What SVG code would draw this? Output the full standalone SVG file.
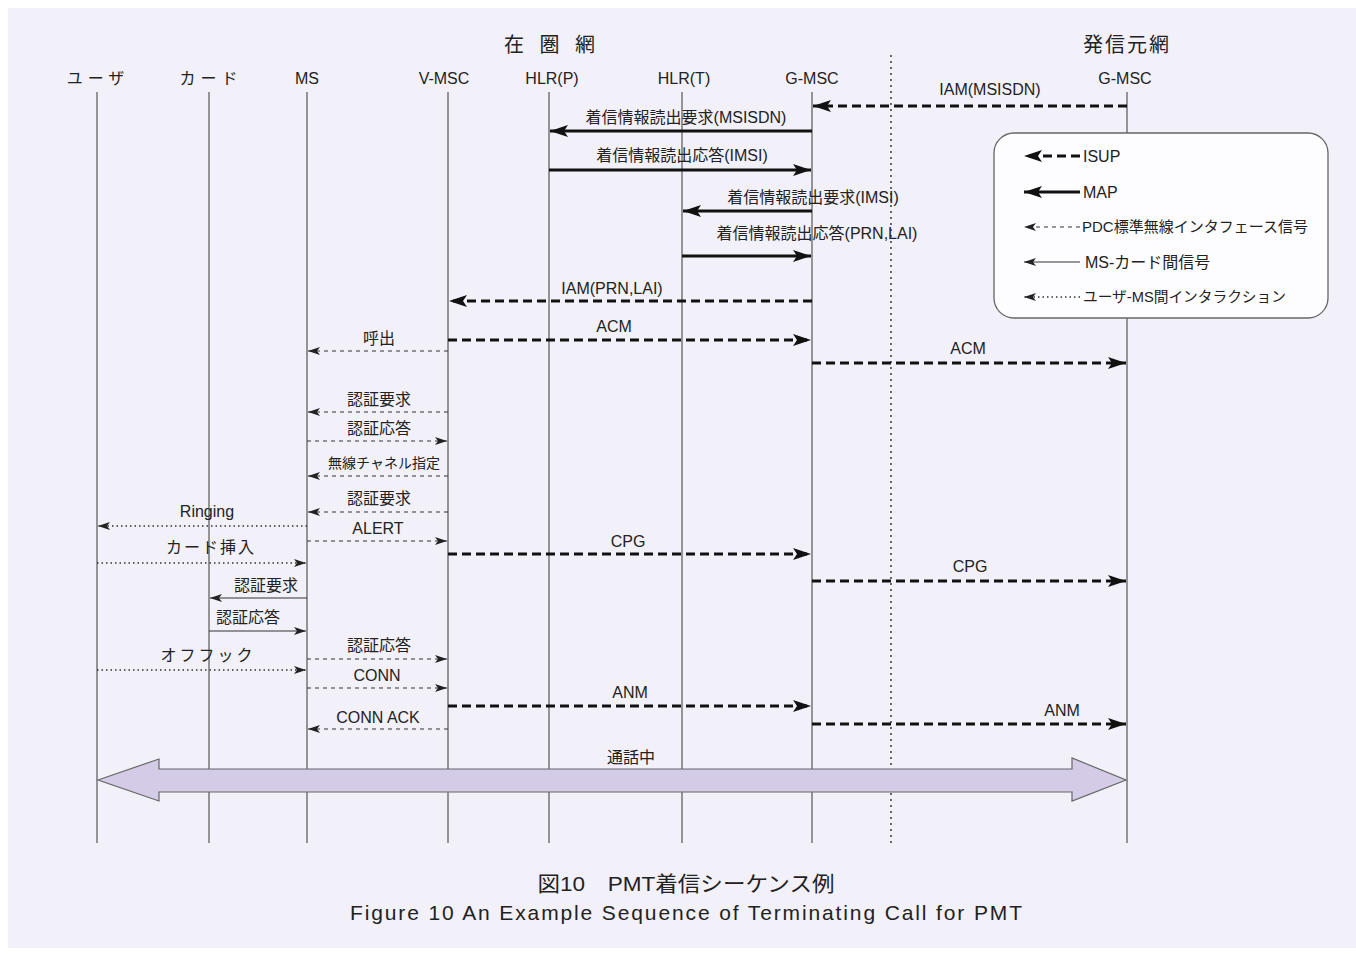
<svg xmlns="http://www.w3.org/2000/svg" width="1356" height="954" viewBox="0 0 1356 954">
<style>
.bg{fill:#f2f0f8}
.life{stroke:#555;stroke-width:1.2;fill:none}
.div{stroke:#444;stroke-width:1.6;stroke-dasharray:2 4;fill:none}
.hdr{font-family:"Liberation Sans","Noto Sans CJK JP",sans-serif;font-size:16px;fill:#222;text-anchor:middle}
.ttl{font-family:"Liberation Sans","Noto Sans CJK JP",sans-serif;font-size:20px;fill:#222;text-anchor:middle}
.cap{font-family:"Liberation Sans","Noto Sans CJK JP",sans-serif;font-size:21px;fill:#222;text-anchor:middle}
.lbl{font-family:"Liberation Sans","Noto Sans CJK JP",sans-serif;font-size:16px;fill:#222;text-anchor:middle}
.sm{font-size:14px}
.isup{stroke:#111;stroke-width:3;stroke-dasharray:9 5;fill:none;marker-end:url(#big)}
.map{stroke:#111;stroke-width:3;fill:none;marker-end:url(#big)}
.pdc{stroke:#333;stroke-width:1.2;stroke-dasharray:4 4;fill:none;marker-end:url(#small)}
.card{stroke:#333;stroke-width:1.2;fill:none;marker-end:url(#small)}
.usr{stroke:#333;stroke-width:1.3;stroke-dasharray:1.5 3;fill:none;marker-end:url(#small)}
.leg{font-family:"Liberation Sans","Noto Sans CJK JP",sans-serif;font-size:16px;fill:#222}
.leg.s14{font-size:15px}
.leg.s13{font-size:14.7px}
</style>
<defs>
<marker id="big" markerUnits="userSpaceOnUse" markerWidth="20" markerHeight="12" refX="18" refY="6" orient="auto">
<path d="M0,0 L18,6 L0,12 L4,6 z" fill="#111"/>
</marker>
<marker id="small" markerUnits="userSpaceOnUse" markerWidth="14" markerHeight="8" refX="12" refY="4" orient="auto">
<path d="M0,0 L12,4 L0,8 L3,4 z" fill="#222"/>
</marker>
</defs>
<rect class="bg" x="8" y="8" width="1348" height="940"/>

<text class="ttl" x="552" y="52" letter-spacing="5">在 圏 網</text>
<text class="ttl" x="1127" y="52" letter-spacing="2">発信元網</text>
<line class="div" x1="891" y1="55" x2="891" y2="843"/>

<g id="node-user"><text class="hdr" x="98" y="84" letter-spacing="5">ユーザ</text><line class="life" x1="97" y1="92" x2="97" y2="843"/></g>
<g id="node-card"><text class="hdr" x="211" y="84" letter-spacing="5">カード</text><line class="life" x1="209" y1="92" x2="209" y2="843"/></g>
<g id="node-ms"><text class="hdr" x="307" y="84">MS</text><line class="life" x1="307" y1="92" x2="307" y2="843"/></g>
<g id="node-vmsc"><text class="hdr" x="444" y="84">V-MSC</text><line class="life" x1="448" y1="92" x2="448" y2="843"/></g>
<g id="node-hlrp"><text class="hdr" x="552" y="84">HLR(P)</text><line class="life" x1="549" y1="92" x2="549" y2="843"/></g>
<g id="node-hlrt"><text class="hdr" x="684" y="84">HLR(T)</text><line class="life" x1="682" y1="92" x2="682" y2="843"/></g>
<g id="node-gmsc"><text class="hdr" x="812" y="84">G-MSC</text><line class="life" x1="812" y1="92" x2="812" y2="843"/></g>
<g id="node-gmsc2"><text class="hdr" x="1125" y="84">G-MSC</text><line class="life" x1="1127" y1="92" x2="1127" y2="843"/></g>

<g id="legend">
<rect x="994" y="133" width="334" height="185" rx="20" ry="20" fill="#fdfdff" stroke="#666" stroke-width="1.3"/>
<line class="isup" x1="1080" y1="156" x2="1024" y2="156"/>
<text class="leg" x="1083" y="162">ISUP</text>
<line class="map" x1="1080" y1="192" x2="1024" y2="192"/>
<text class="leg" x="1083" y="198">MAP</text>
<line class="pdc" x1="1080" y1="227" x2="1024" y2="227"/>
<text class="leg s14" x="1082" y="232">PDC標準無線インタフェース信号</text>
<line class="card" x1="1080" y1="262" x2="1024" y2="262"/>
<text class="leg" x="1085" y="268">MS-カード間信号</text>
<line class="usr" x1="1080" y1="297" x2="1024" y2="297"/>
<text class="leg s13" x="1083" y="302">ユーザ-MS間インタラクション</text>
</g>

<g id="connectors">
<line class="isup" x1="1127" y1="106" x2="813" y2="106"/>
<text class="lbl" x="990" y="95">IAM(MSISDN)</text>
<line class="map" x1="812" y1="131" x2="550" y2="131"/>
<text class="lbl" x="686" y="123">着信情報読出要求(MSISDN)</text>
<line class="map" x1="549" y1="170" x2="811" y2="170"/>
<text class="lbl" x="682" y="161">着信情報読出応答(IMSI)</text>
<line class="map" x1="812" y1="211" x2="683" y2="211"/>
<text class="lbl" x="813" y="203">着信情報読出要求(IMSI)</text>
<line class="map" x1="682" y1="256" x2="811" y2="256"/>
<text class="lbl" x="817" y="239">着信情報読出応答(PRN,LAI)</text>
<line class="isup" x1="812" y1="301" x2="449" y2="301"/>
<text class="lbl" x="612" y="294">IAM(PRN,LAI)</text>
<line class="isup" x1="448" y1="340" x2="811" y2="340"/>
<text class="lbl" x="614" y="332">ACM</text>
<line class="pdc" x1="448" y1="351" x2="308" y2="351"/>
<text class="lbl" x="379" y="344">呼出</text>
<line class="isup" x1="812" y1="363" x2="1126" y2="363"/>
<text class="lbl" x="968" y="354">ACM</text>
<line class="pdc" x1="448" y1="412" x2="308" y2="412"/>
<text class="lbl" x="379" y="405">認証要求</text>
<line class="pdc" x1="307" y1="441" x2="447" y2="441"/>
<text class="lbl" x="379" y="434">認証応答</text>
<line class="pdc" x1="448" y1="476" x2="308" y2="476"/>
<text class="lbl sm" x="384" y="468">無線チャネル指定</text>
<line class="pdc" x1="448" y1="512" x2="308" y2="512"/>
<text class="lbl" x="379" y="504">認証要求</text>
<line class="usr" x1="307" y1="526" x2="98" y2="526"/>
<text class="lbl" x="207" y="517">Ringing</text>
<line class="pdc" x1="307" y1="541" x2="447" y2="541"/>
<text class="lbl" x="378" y="534">ALERT</text>
<line class="isup" x1="448" y1="554" x2="811" y2="554"/>
<text class="lbl" x="628" y="547">CPG</text>
<line class="usr" x1="97" y1="563" x2="306" y2="563"/>
<text class="lbl" x="211" y="553" letter-spacing="2">カード挿入</text>
<line class="isup" x1="812" y1="581" x2="1126" y2="581"/>
<text class="lbl" x="970" y="572">CPG</text>
<line class="card" x1="307" y1="598" x2="210" y2="598"/>
<text class="lbl" x="266" y="591">認証要求</text>
<line class="card" x1="209" y1="631" x2="306" y2="631"/>
<text class="lbl" x="248" y="623">認証応答</text>
<line class="pdc" x1="307" y1="659" x2="447" y2="659"/>
<text class="lbl" x="379" y="651">認証応答</text>
<line class="usr" x1="97" y1="670" x2="306" y2="670"/>
<text class="lbl" x="208" y="661" letter-spacing="3">オフフック</text>
<line class="pdc" x1="307" y1="688" x2="447" y2="688"/>
<text class="lbl" x="377" y="681">CONN</text>
<line class="isup" x1="448" y1="706" x2="811" y2="706"/>
<text class="lbl" x="630" y="698">ANM</text>
<line class="pdc" x1="448" y1="729" x2="308" y2="729"/>
<text class="lbl" x="378" y="723">CONN ACK</text>
<line class="isup" x1="812" y1="724" x2="1126" y2="724"/>
<text class="lbl" x="1062" y="716">ANM</text>
<polygon points="98,780 159,759 159,769 1072,769 1072,758 1126,780 1072,801 1072,792 159,792 159,801" fill="#d4cbe6" stroke="#666" stroke-width="1.2"/>
<text class="lbl" x="631" y="763">通話中</text>
</g>

<text class="cap" x="686" y="891" textLength="297" lengthAdjust="spacingAndGlyphs">図10　PMT着信シーケンス例</text>
<text class="cap" x="686" y="920" textLength="672" lengthAdjust="spacing">Figure 10 An Example Sequence of Terminating Call for PMT</text>
</svg>
